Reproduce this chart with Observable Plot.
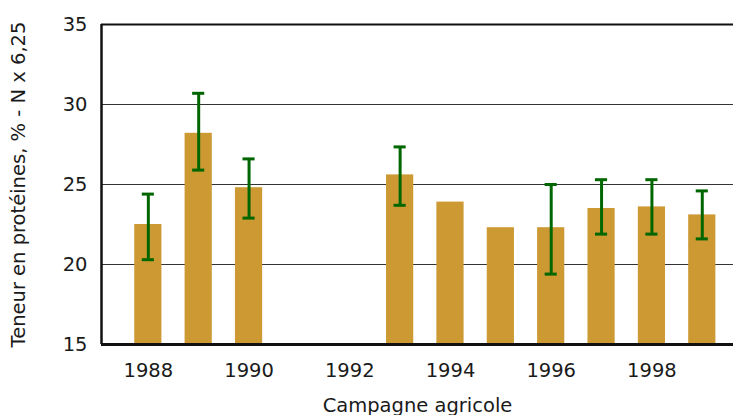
<!DOCTYPE html>
<html><head><meta charset="utf-8">
<script src="https://cdn.jsdelivr.net/npm/d3@7"></script>
<script src="https://cdn.jsdelivr.net/npm/@observablehq/plot@0.6"></script>
<style>body{margin:0;background:#fff;} svg{font-family:"DejaVu Sans",sans-serif;}</style>
</head><body><div id="chart"></div>
<script>
const years = [1988, 1989, 1990, 1993, 1994, 1995, 1996, 1997, 1998, 1999];
const values = [22.5, 28.2, 24.8, 25.6, 23.9, 22.3, 22.3, 23.5, 23.6, 23.1];
const errHigh = [24.4, 30.7, 26.6, 27.35, null, null, 25.0, 25.3, 25.3, 24.6];
const errLow = [20.3, 25.9, 22.9, 23.7, null, null, 19.4, 21.9, 21.9, 21.6];
const xTicks = [1988, 1990, 1992, 1994, 1996, 1998];
const yTicks = [15, 20, 25, 30, 35];

const data = years.map((y, i) => ({year: y, value: values[i], hi: errHigh[i], lo: errLow[i]}));
const err = data.filter(d => d.hi != null);
const bw = 0.27, cw = 0.12;

const chart = Plot.plot({
  width: 733, height: 415,
  marginTop: 24, marginBottom: 71, marginLeft: 101, marginRight: 0,
  style: {fontSize: "19.5px", fontFamily: "'DejaVu Sans', sans-serif", color: "#1a1a1a"},
  x: {domain: [1987.07, 1999.62]},
  y: {domain: [15, 35]},
  marks: [
    Plot.ruleY([20, 25, 30], {stroke: "#333", strokeWidth: 1.2}),
    Plot.ruleY([35], {stroke: "#111", strokeWidth: 2}),
    Plot.rectY(data, {x1: d => d.year - bw, x2: d => d.year + bw, y1: 15, y2: "value", fill: "#CC9933"}),
    Plot.ruleX(err, {x: "year", y1: "lo", y2: "hi", stroke: "#006600", strokeWidth: 3}),
    Plot.ruleY(err, {y: "hi", x1: d => d.year - cw, x2: d => d.year + cw, stroke: "#006600", strokeWidth: 3}),
    Plot.ruleY(err, {y: "lo", x1: d => d.year - cw, x2: d => d.year + cw, stroke: "#006600", strokeWidth: 3}),
    Plot.axisX({ticks: xTicks, tickFormat: "d", tickSize: 0, tickPadding: 19, label: "Campagne agricole", labelAnchor: "center", labelArrow: "none", labelOffset: 67}),
    Plot.axisY({ticks: yTicks, tickSize: 0, tickPadding: 14, label: "Teneur en protéines, % - N x 6,25", labelAnchor: "center", labelArrow: "none", labelOffset: 90}),
    Plot.ruleX([1987.07], {stroke: "#111", strokeWidth: 2.5}),
    Plot.ruleY([15], {stroke: "#111", strokeWidth: 3})
  ]
});
document.getElementById("chart").appendChild(chart);
</script></body></html>
